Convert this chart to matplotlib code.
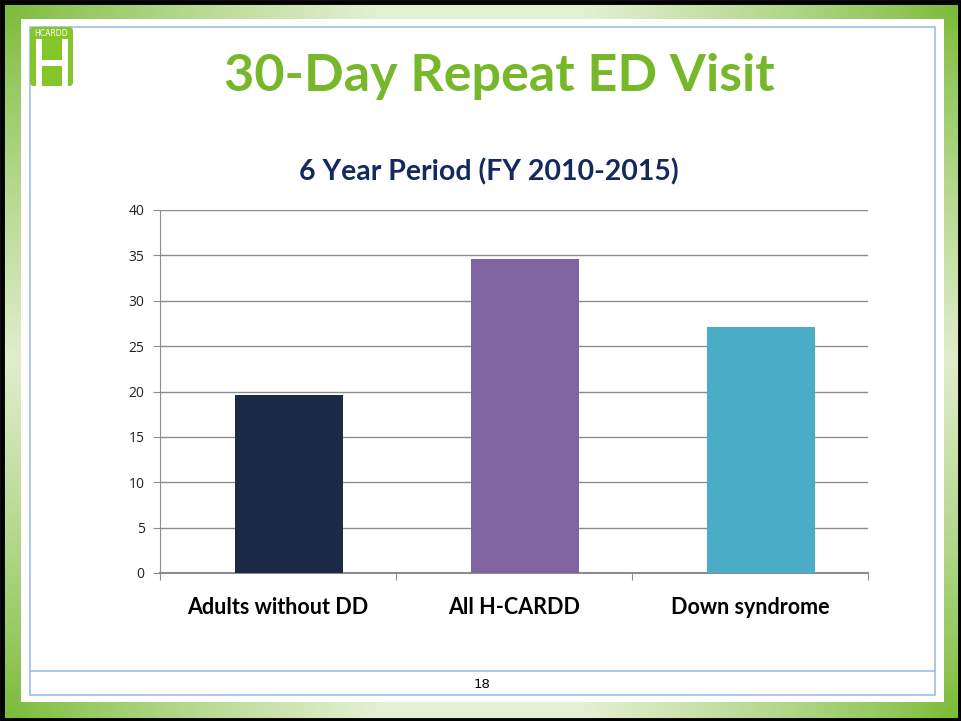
import numpy as np
import matplotlib
matplotlib.use("Agg")
import matplotlib.pyplot as plt
from matplotlib.patches import Rectangle, FancyBboxPatch

# ---- data ----
categories = ["Adults without DD", "All H-CARDD", "Down syndrome"]
values = [19.6, 34.6, 27.1]
bar_colors = ["#1c2b45", "#8064a2", "#4bacc6"]
yticks = [0, 5, 10, 15, 20, 25, 30, 35, 40]
title = "30-Day Repeat ED Visit"
subtitle = "6 Year Period (FY 2010-2015)"
page_number = "18"

W, H = 961, 721
fig = plt.figure(figsize=(W / 100, H / 100), dpi=100)

# ---- background frame (gradient green border) ----
bg = fig.add_axes([0, 0, 1, 1])
bg.set_xlim(0, W)
bg.set_ylim(H, 0)
bg.axis("off")

yy, xx = np.mgrid[0:H, 0:W]
corners = [(0, 0), (W, 0), (0, H), (W, H)]
d = np.min([np.hypot(xx - cx, yy - cy) for cx, cy in corners], axis=0)
t = np.clip(d / 380.0, 0, 1) ** 0.8
dark = np.array([118, 184, 48]) / 255.0
light = np.array([228, 240, 212]) / 255.0
img = dark[None, None, :] * (1 - t[..., None]) + light[None, None, :] * t[..., None]
bg.imshow(img, extent=(0, W, H, 0), aspect="auto", zorder=0)

# black outer border
bg.add_patch(Rectangle((1.5, 1.5), W - 3, H - 3, fill=False, ec="black", lw=3.5, zorder=1))
# white inner area
bg.add_patch(Rectangle((21, 19), 923, 683, fc="white", ec="none", zorder=2))
# blue thin border
bg.add_patch(Rectangle((30, 26.5), 905, 668, fill=False, ec="#9dbde8", lw=1.2, zorder=3))
bg.plot([30, 935], [671, 671], color="#9dbde8", lw=1.2, zorder=3)

# logo
bg.add_patch(FancyBboxPatch((30, 27), 43, 59, boxstyle="round,pad=0,rounding_size=4",
                            fc="#84c52a", ec="none", zorder=4))
bg.add_patch(Rectangle((36, 39), 6, 47, fc="white", ec="none", zorder=5))
bg.add_patch(Rectangle((62, 39), 6, 47, fc="white", ec="none", zorder=5))
bg.add_patch(Rectangle((36, 60), 32, 6, fc="white", ec="none", zorder=5))
bg.text(51.5, 33.5, "HCARDD", color="white", fontsize=5.6, ha="center", va="center",
        family="Liberation Sans Narrow", zorder=5)

# titles
bg.text(499, 77, title, color="#76b82a", fontsize=37.5, fontweight="bold",
        family="Lato", ha="center", va="center", zorder=5)
bg.text(489, 172, subtitle, color="#142a5e", fontsize=20.5, fontweight="bold",
        family="Lato", ha="center", va="center", zorder=5)
bg.text(482, 685, page_number, color="black", fontsize=9.5,
        family="Liberation Sans Narrow", ha="center", va="center", zorder=5)

# ---- chart ----
left, right, top, bottom = 160, 868, 210, 573
ax = fig.add_axes([left / W, (H - bottom) / H, (right - left) / W, (bottom - top) / H])
ax.set_zorder(10)
ax.patch.set_alpha(0)
x = np.arange(len(categories))
bar_shift = 0.047
ax.bar(x + bar_shift, values, width=0.46, color=bar_colors, zorder=3)
ax.set_xlim(-0.5, len(categories) - 0.5)
ax.set_ylim(0, 40)
ax.set_yticks(yticks)
ax.set_yticklabels([str(v) for v in yticks], fontsize=10, family="Open Sans", color="#222222")
ax.yaxis.grid(True, color="#8c8c8c", lw=1)
ax.set_axisbelow(True)
ax.tick_params(axis="y", length=5, color="#8c8c8c", pad=6)
ax.set_xticks(np.arange(-0.5, len(categories), 1.0), minor=False)
ax.set_xticklabels([])
ax.tick_params(axis="x", length=5, color="#8c8c8c")
ax.set_xticks(x, minor=True)
ax.set_xticklabels(categories, minor=True, fontsize=15.5, fontweight="bold", family="Lato", color="black")
ax.tick_params(axis="x", which="minor", length=0, pad=17)
for s in ["top", "right"]:
    ax.spines[s].set_visible(False)
ax.spines["left"].set_color("#8c8c8c")
ax.spines["bottom"].set_color("#8c8c8c")
ax.spines["bottom"].set_linewidth(1.5)

fig.savefig("out.png", dpi=100)
